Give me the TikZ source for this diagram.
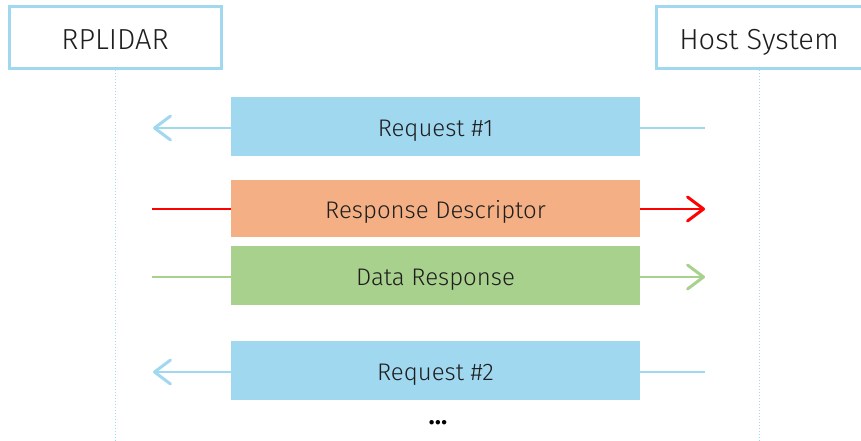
\documentclass[tikz,border=0pt]{standalone}
\usepackage{fontspec}
\setmainfont{Fira Sans Light}
\usetikzlibrary{arrows.meta}
\definecolor{lblue}{RGB}{160,216,240}
\definecolor{lorange}{RGB}{244,176,132}
\definecolor{lgreen}{RGB}{169,209,142}
\definecolor{lred}{RGB}{255,0,0}
\definecolor{txt}{RGB}{30,30,30}
\tikzset{
  actor/.style={draw=lblue, line width=3pt, fill=white, minimum height=62pt, inner sep=0pt, font=\fontsize{29pt}{31pt}\selectfont, text=txt, text height=24pt, text depth=0pt},
  msg/.style={minimum width=409pt, minimum height=59pt, inner sep=0pt, font=\fontsize{24pt}{26pt}\selectfont, text=txt, text height=19.5pt, text depth=0pt},
  life/.style={draw=lblue, line width=1pt, dotted},
  conn/.style={line width=2pt},
  tip/.style={-{Straight Barb[length=16pt,width=24pt,line width=3pt,round]}},
}
\begin{document}
\begin{tikzpicture}[x=1pt,y=-1pt]
\useasboundingbox (0,0) rectangle (861,441);
\node[actor, minimum width=212pt] (rp) at (115,38) {RPLIDAR};
\node[actor, minimum width=206pt] (hs) at (759,38) {Host System};
\coordinate (rpend) at (115,441);
\coordinate (hsend) at (759,441);
\draw[life] (rp.south) -- (rpend);
\draw[life] (hs.south) -- (hsend);
% messages
\node[msg, fill=lblue] (r1) at (435.5,126.5) {Request \#1};
\node[msg, fill=lorange, minimum height=57pt] (rd) at (435.5,208.5) {Response Descriptor};
\node[msg, fill=lgreen] (dr) at (435.5,275.5) {Data Response};
\node[msg, fill=lblue] (r2) at (435.5,370.5) {Request \#2};
\node[font=\fontsize{26pt}{28pt}\selectfont\bfseries, text=black] (dots) at (438,423) {...};
% connector endpoints
\coordinate (r1L) at (153,128); \coordinate (r1R) at (705,128);
\coordinate (rdL) at (152,209); \coordinate (rdR) at (705,209);
\coordinate (drL) at (152,277); \coordinate (drR) at (705,277);
\coordinate (r2L) at (153,372); \coordinate (r2R) at (705,372);
\draw[conn, lblue] (r1R) -- (r1.east |- r1R);
\draw[conn, lblue, tip] (r1.west |- r1L) -- (r1L);
\draw[conn, lred] (rdL) -- (rd.west |- rdL);
\draw[conn, lred, tip] (rd.east |- rdR) -- (rdR);
\draw[conn, lgreen] (drL) -- (dr.west |- drL);
\draw[conn, lgreen, tip] (dr.east |- drR) -- (drR);
\draw[conn, lblue] (r2R) -- (r2.east |- r2R);
\draw[conn, lblue, tip] (r2.west |- r2L) -- (r2L);
\end{tikzpicture}
\end{document}
